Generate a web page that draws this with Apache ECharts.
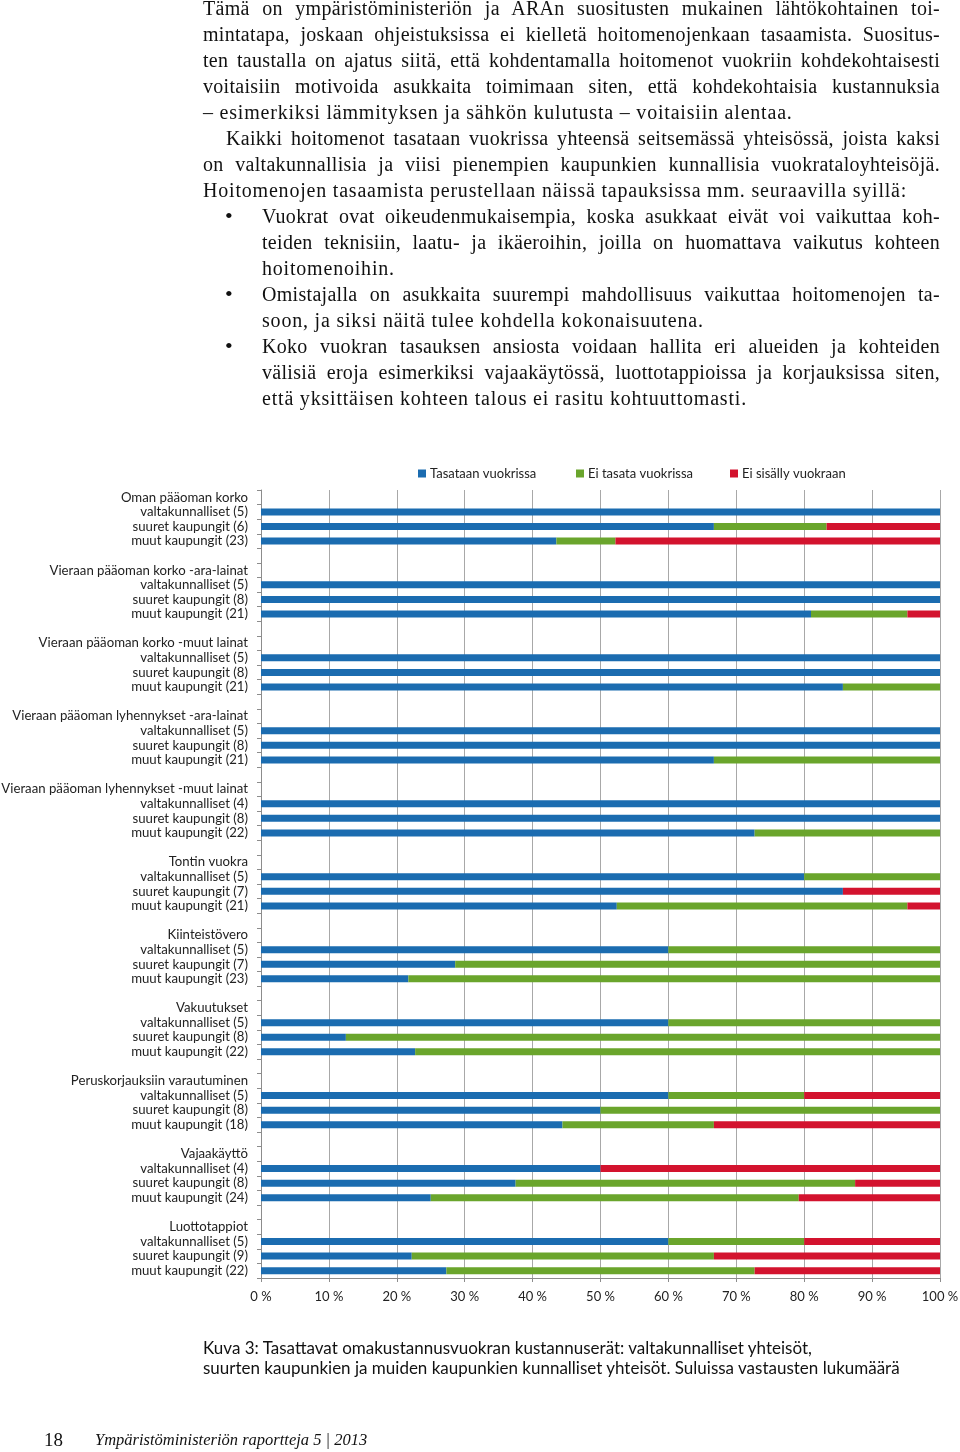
<!DOCTYPE html>
<html>
<head>
<meta charset="utf-8">
<script src="https://cdn.jsdelivr.net/npm/echarts@6/dist/echarts.min.js"></script>
<style>
  html, body { margin: 0; padding: 0; background: #fff; }
  #page { position: relative; width: 960px; height: 1452px; overflow: hidden; background: #fff; }
  #chart { position: absolute; left: 0; top: 0; width: 960px; height: 1452px; }
  .txt { position: absolute; font-family: "Liberation Serif", serif; font-size: 20px; line-height: 26px; color: #111; }
  .ln { height: 26px; white-space: nowrap; overflow: visible; letter-spacing: 0.8px; }
  .j { text-align: justify; text-align-last: justify; letter-spacing: 0.3px; }
  .bullet { position: absolute; left: 225px; font-family: "Liberation Serif", serif; font-size: 22px; line-height: 26px; color: #111; }
  .cap { position: absolute; left: 203px; top: 1338px; font-family: Lato, sans-serif; font-size: 17px; line-height: 20px; color: #111; }
  .foot { position: absolute; top: 1428px; font-family: "Liberation Serif", serif; color: #111; line-height: 24px; }
</style>
</head>
<body>
<div id="page">
  <div id="chart"></div>
  <div class="txt" style="left:203px; top:-5px; width:737px;">
    <div class="ln j">Tämä on ympäristöministeriön ja ARAn suositusten mukainen lähtökohtainen toi-</div>
    <div class="ln j">mintatapa, joskaan ohjeistuksissa ei kielletä hoitomenojenkaan tasaamista. Suositus-</div>
    <div class="ln j">ten taustalla on ajatus siitä, että kohdentamalla hoitomenot vuokriin kohdekohtaisesti</div>
    <div class="ln j">voitaisiin motivoida asukkaita toimimaan siten, että kohdekohtaisia kustannuksia</div>
    <div class="ln">– esimerkiksi lämmityksen ja sähkön kulutusta – voitaisiin alentaa.</div>
    <div class="ln j" style="padding-left:23px;">Kaikki hoitomenot tasataan vuokrissa yhteensä seitsemässä yhteisössä, joista kaksi</div>
    <div class="ln j">on valtakunnallisia ja viisi pienempien kaupunkien kunnallisia vuokrataloyhteisöjä.</div>
    <div class="ln">Hoitomenojen tasaamista perustellaan näissä tapauksissa mm. seuraavilla syillä:</div>
  </div>
  <div class="bullet" style="top:203px;">•</div>
  <div class="bullet" style="top:281px;">•</div>
  <div class="bullet" style="top:333px;">•</div>
  <div class="txt" style="left:262px; top:203px; width:678px;">
    <div class="ln j">Vuokrat ovat oikeudenmukaisempia, koska asukkaat eivät voi vaikuttaa koh-</div>
    <div class="ln j">teiden teknisiin, laatu- ja ikäeroihin, joilla on huomattava vaikutus kohteen</div>
    <div class="ln">hoitomenoihin.</div>
    <div class="ln j">Omistajalla on asukkaita suurempi mahdollisuus vaikuttaa hoitomenojen ta-</div>
    <div class="ln">soon, ja siksi näitä tulee kohdella kokonaisuutena.</div>
    <div class="ln j">Koko vuokran tasauksen ansiosta voidaan hallita eri alueiden ja kohteiden</div>
    <div class="ln j">välisiä eroja esimerkiksi vajaakäytössä, luottotappioissa ja korjauksissa siten,</div>
    <div class="ln">että yksittäisen kohteen talous ei rasitu kohtuuttomasti.</div>
  </div>
  <div class="cap">Kuva 3: Tasattavat omakustannusvuokran kustannuserät: valtakunnalliset yhteisöt,<br>suurten kaupunkien ja muiden kaupunkien kunnalliset yhteisöt. Suluissa vastausten lukumäärä</div>
  <div class="foot" style="left:44px; font-size:19px;">18</div>
  <div class="foot" style="left:95px; font-size:16.5px; font-style:italic;">Ympäristöministeriön raportteja 5 | 2013</div>
</div>
<script>
// ---- data ----
const groups = [
  "Oman pääoman korko",
  "Vieraan pääoman korko -ara-lainat",
  "Vieraan pääoman korko -muut lainat",
  "Vieraan pääoman lyhennykset -ara-lainat",
  "Vieraan pääoman lyhennykset -muut lainat",
  "Tontin vuokra",
  "Kiinteistövero",
  "Vakuutukset",
  "Peruskorjauksiin varautuminen",
  "Vajaakäyttö",
  "Luottotappiot"
];
const subgroups = ["valtakunnalliset", "suuret kaupungit", "muut kaupungit"];
const respondents = [
  [5, 6, 23], [5, 8, 21], [5, 8, 21], [5, 8, 21], [4, 8, 22], [5, 7, 21],
  [5, 7, 23], [5, 8, 22], [5, 8, 18], [4, 8, 24], [5, 9, 22]
];
const seriesNames = ["Tasataan vuokrissa", "Ei tasata vuokrissa", "Ei sisälly vuokraan"];
const tasataan = [
  [100, 66.7, 43.5], [100, 100, 81.0], [100, 100, 85.7], [100, 100, 66.7], [100, 100, 72.7],
  [80, 85.7, 52.4], [60, 28.6, 21.7], [60, 12.5, 22.7], [60, 50, 44.4], [50, 37.5, 25.0], [60, 22.2, 27.3]
];
const eiTasata = [
  [0, 16.6, 8.7], [0, 0, 14.2], [0, 0, 14.3], [0, 0, 33.3], [0, 0, 27.3],
  [20, 0, 42.8], [40, 71.4, 78.3], [40, 87.5, 77.3], [20, 50, 22.3], [0, 50, 54.2], [20, 44.5, 45.4]
];
const eiSisally = [
  [0, 16.7, 47.8], [0, 0, 4.8], [0, 0, 0], [0, 0, 0], [0, 0, 0],
  [0, 14.3, 4.8], [0, 0, 0], [0, 0, 0], [20, 0, 33.3], [50, 12.5, 20.8], [20, 33.3, 27.3]
];
const xTicks = [0, 10, 20, 30, 40, 50, 60, 70, 80, 90, 100];
const colors = ["#1b6cb0", "#6aa52c", "#d3132e"];

// ---- build category rows: title, 3 bars, blank ----
const categories = [];
const rowsData = [[], [], []];
const valueSets = [tasataan, eiTasata, eiSisally];
groups.forEach((g, gi) => {
  categories.push(g);
  rowsData.forEach(r => r.push('-'));
  subgroups.forEach((s, si) => {
    categories.push(s + " (" + respondents[gi][si] + ")");
    valueSets.forEach((vs, k) => rowsData[k].push(vs[gi][si] > 0 ? vs[gi][si] : '-'));
  });
  if (gi < groups.length - 1) {
    categories.push("");
    rowsData.forEach(r => r.push('-'));
  }
});

const chart = echarts.init(document.getElementById('chart'), null, { renderer: 'canvas' });
const legendPos = [418, 576, 730];
chart.setOption({
  animation: false,
  backgroundColor: '#ffffff',
  color: colors,
  legend: seriesNames.map((n, i) => ({
    data: [n], left: legendPos[i], top: 467, icon: 'rect', itemWidth: 8, itemHeight: 8, itemGap: 4,
    padding: 0,
    textStyle: { fontFamily: 'Lato', fontSize: 13, color: '#222', padding: [0, 0, 0, -1] }
  })),
  grid: { left: 261, top: 490, width: 679, height: 788, containLabel: false, outerBoundsMode: 'none' },
  xAxis: {
    type: 'value', min: xTicks[0], max: xTicks[xTicks.length - 1], interval: 10,
    axisLine: { show: true, lineStyle: { color: '#8c8c8c', width: 1 } },
    axisTick: { show: true, length: 4, lineStyle: { color: '#8c8c8c' } },
    splitLine: { show: true, lineStyle: { color: '#a8a8a8', width: 1 } },
    axisLabel: {
      formatter: v => v + ' %', fontFamily: 'Lato', fontSize: 13, color: '#222', margin: 12
    }
  },
  yAxis: {
    type: 'category', inverse: true, data: categories,
    axisLine: { show: true, lineStyle: { color: '#8c8c8c', width: 1 } },
    axisTick: { show: true, length: 4, lineStyle: { color: '#8c8c8c' } },
    splitLine: { show: false },
    axisLabel: { interval: 0, fontFamily: 'Lato', fontSize: 13.2, color: '#222', margin: 13 }
  },
  series: seriesNames.map((n, i) => ({
    name: n, type: 'bar', stack: 'total', barWidth: 7, data: rowsData[i],
    itemStyle: { color: colors[i] }
  }))
});
</script>
</body>
</html>
